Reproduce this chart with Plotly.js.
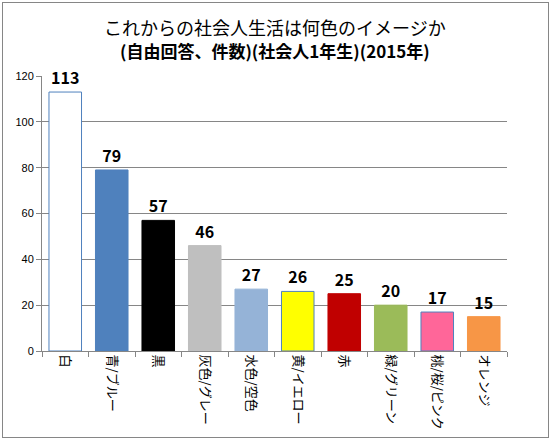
<!DOCTYPE html>
<html><head><meta charset="utf-8">
<script src="https://cdn.plot.ly/plotly-3.0.1.min.js"></script>
<style>html,body{margin:0;padding:0;background:#fff;}#wrap{position:relative;width:551px;height:441px;}#chart{width:551px;height:441px;}#frame{position:absolute;left:2px;top:2px;width:545px;height:434px;border:1px solid #868686;pointer-events:none;}</style>
</head><body><div id="wrap"><div id="chart"></div><div id="frame"></div></div>
<script>
const categories = ["白","青/ブルー","黒","灰色/グレー","水色/空色","黄/イエロー","赤","緑/グリーン","桃/桜/ピンク","オレンジ"];
const counts = [113,79,57,46,27,26,25,20,17,15];
const barColors = ["#FFFFFF","#4F81BD","#000000","#BFBFBF","#95B3D7","#FFFF00","#C00000","#9BBB59","#FF6699","#F79646"];
const borderColors = ["#4F81BD","#4F81BD","#000000","#BFBFBF","#95B3D7","#4F81BD","#C00000","#9BBB59","#4F81BD","#F79646"];
const titleLine1 = "これからの社会人生活は何色のイメージか";
const titleLine2 = "(自由回答、件数)(社会人1年生)(2015年)";

const font = '"Noto Sans CJK JP", "Noto Sans", sans-serif';
const W = 551, H = 441, mt = 76, mb = 90;
const plotH = H - mt - mb;
function paperY(px) { return (H - mb - px) / plotH; }
Plotly.newPlot('chart', [{
  type: 'bar', x: categories, y: counts,
  marker: {color: barColors, line: {color: borderColors, width: 1}},
  width: 0.7,
  text: counts.map(String), textposition: 'outside', cliponaxis: false,
  textfont: {family: font, size: 16, color: '#000', weight: 'bold'},
  hoverinfo: 'none'
}], {
  width: W, height: H,
  margin: {l: 42, r: 44, t: mt, b: mb},
  paper_bgcolor: '#fff', plot_bgcolor: '#fff',
  showlegend: false,
  annotations: [
    {text: titleLine1, xref: 'paper', yref: 'paper', x: 0.5, y: paperY(27), xanchor: 'center', yanchor: 'middle', showarrow: false, font: {family: font, size: 18, color: '#000'}},
    {text: '<b>' + titleLine2 + '</b>', xref: 'paper', yref: 'paper', x: 0.5, y: paperY(50), xanchor: 'center', yanchor: 'middle', showarrow: false, font: {family: font, size: 17, color: '#000'}}
  ],
  xaxis: {type: 'category', tickangle: 90, tickfont: {family: font, size: 13, color: '#000'},
    showline: true, linecolor: '#868686', ticks: 'outside', tickson: 'boundaries', ticklen: 5, tickcolor: '#868686', showgrid: false, fixedrange: true},
  yaxis: {range: [0, 120], dtick: 20, tickfont: {family: 'Liberation Sans, Arial, sans-serif', size: 11, color: '#000'},
    showline: true, linecolor: '#868686', ticks: 'outside', ticklen: 5, tickcolor: '#868686',
    showgrid: true, gridcolor: '#868686', gridwidth: 1, zeroline: false, fixedrange: true},
  bargap: 0.3
}, {displayModeBar: false, staticPlot: true});
</script></body></html>
